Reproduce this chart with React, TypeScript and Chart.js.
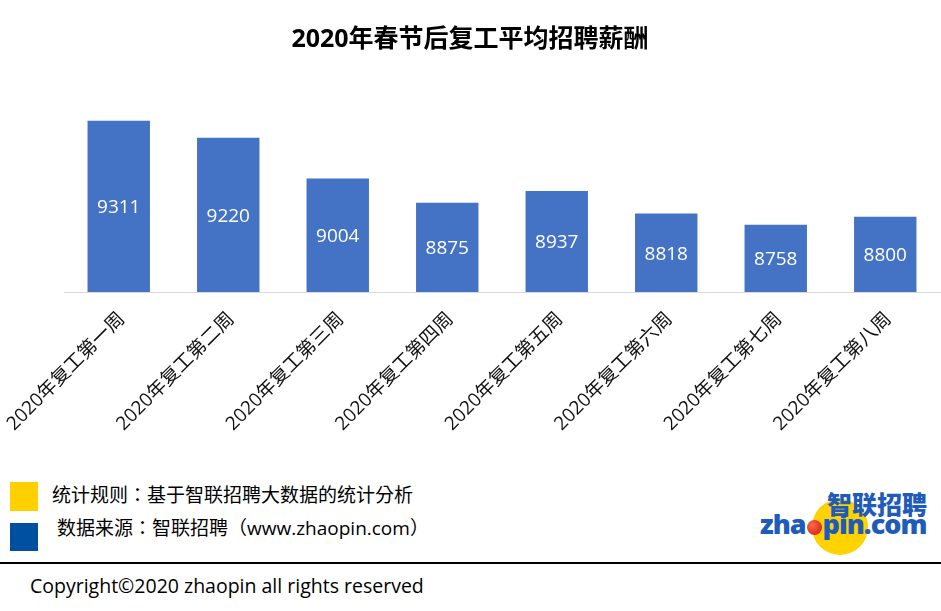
import React, { useEffect, useRef } from "react";
import { Chart, registerables } from "chart.js";

Chart.register(...registerables);

const TITLE = "2020年春节后复工平均招聘薪酬";
const categories = [
  "2020年复工第一周",
  "2020年复工第二周",
  "2020年复工第三周",
  "2020年复工第四周",
  "2020年复工第五周",
  "2020年复工第六周",
  "2020年复工第七周",
  "2020年复工第八周",
];
const salaries = [9311, 9220, 9004, 8875, 8937, 8818, 8758, 8800];
const yMin = 8400;
const yMax = 9400;

const FONT = "'Open Sans', 'Noto Sans CJK SC', sans-serif";
const FONT_TC = "'Open Sans', 'Noto Sans CJK TC', sans-serif";

const barLabelPlugin = {
  id: "barLabels",
  afterDraw(chart: any) {
    const ctx = chart.ctx;
    const meta = chart.getDatasetMeta(0);
    const data = chart.data.datasets[0].data;
    const yScale = chart.scales.y;
    const basePx = yScale.getPixelForValue(yMin);
    ctx.save();
    ctx.fillStyle = "#ffffff";
    ctx.font = "19px 'Open Sans', sans-serif";
    ctx.textAlign = "center";
    ctx.textBaseline = "middle";
    meta.data.forEach((el: any, i: number) => {
      const topPx = yScale.getPixelForValue(data[i]);
      const cy = (topPx + basePx) / 2 + 1.5;
      ctx.fillText(String(data[i]), el.x, cy);
    });
    ctx.restore();
  },
};

function ChartCanvas() {
  const ref = useRef<HTMLCanvasElement | null>(null);
  useEffect(() => {
    if (!ref.current) return;
    const chart = new Chart(ref.current, {
      type: "bar",
      data: {
        labels: categories,
        datasets: [
          {
            data: salaries,
            backgroundColor: "#4472C4",
            categoryPercentage: 1,
            barPercentage: 0.57,
          },
        ],
      },
      options: {
        animation: false,
        responsive: false,
        maintainAspectRatio: false,
        layout: { padding: { left: 0, right: 1, top: 0, bottom: 0 } },
        plugins: {
          legend: { display: false },
          tooltip: { enabled: false },
          title: {
            display: true,
            text: TITLE,
            color: "#000000",
            font: { family: FONT, size: 25, weight: "bold" },
            padding: { top: 25, bottom: 49 },
          },
        },
        scales: {
          y: {
            display: true,
            min: yMin,
            max: yMax,
            grid: { display: false },
            border: { display: false },
            ticks: { display: false },
            afterFit: (s: any) => {
              s.width = 64;
              s.paddingTop = 0;
              s.paddingBottom = 0;
            },
          },
          x: {
            grid: { display: false },
            border: { display: true, color: "#d9d9d9", width: 1 },
            ticks: {
              color: "#111111",
              font: { family: FONT, size: 19 },
              minRotation: 45,
              maxRotation: 45,
              padding: 8,
              labelOffset: 3,
              autoSkip: false,
            },
            afterFit: (s: any) => {
              s.height = 168;
              s.paddingLeft = 0;
              s.paddingRight = 0;
            },
          },
        },
      },
      plugins: [barLabelPlugin],
    } as any);
    return () => chart.destroy();
  }, []);
  return <canvas ref={ref} width={941} height={460} style={{ display: "block" }} />;
}

export default function App() {
  return (
    <div
      style={{
        position: "absolute",
        left: 0,
        top: 0,
        width: 941,
        height: 611,
        background: "#ffffff",
        overflow: "hidden",
        fontFamily: FONT,
      }}
    >
      <div style={{ position: "absolute", left: 0, top: 0 }}>
        <ChartCanvas />
      </div>
      <div style={{ position: "absolute", left: 10, top: 482, width: 28, height: 29, background: "#FFD000" }} />
      <div style={{ position: "absolute", left: 10, top: 523, width: 28, height: 28, background: "#0050A2" }} />
      <div style={{ position: "absolute", left: 52, top: 482, fontSize: 19, lineHeight: "26px", color: "#000", fontFamily: FONT_TC, whiteSpace: "nowrap" }}>
        统计规则：基于智联招聘大数据的统计分析
      </div>
      <div style={{ position: "absolute", left: 57, top: 515, fontSize: 19, lineHeight: "26px", color: "#000", fontFamily: FONT_TC, whiteSpace: "nowrap" }}>
        数据来源：智联招聘（www.zhaopin.com）
      </div>
      {/* logo */}
      <div style={{ position: "absolute", left: 812, top: 499, width: 56, height: 56, borderRadius: "50%", background: "#FFD200" }} />
      <div
        style={{
          position: "absolute",
          left: 827,
          top: 488,
          fontSize: 25,
          fontWeight: 900,
          lineHeight: "30px",
          color: "#1F5BB8",
          fontFamily: "'Noto Sans CJK SC', sans-serif",
          letterSpacing: 0,
          whiteSpace: "nowrap",
        }}
      >
        智联招聘
      </div>
      <div
        style={{
          position: "absolute",
          left: 760,
          top: 508,
          fontSize: 27,
          fontWeight: 800,
          lineHeight: "32px",
          color: "#1F5BB8",
          fontFamily: "'Open Sans', Arial, sans-serif",
          letterSpacing: -1,
          whiteSpace: "nowrap",
        }}
      >
        zha
        <span
          style={{
            display: "inline-block",
            width: 15,
            height: 15,
            borderRadius: "50%",
            background: "radial-gradient(circle at 35% 35%, #ff6a4a, #c8140a)",
            margin: "0 1px",
            verticalAlign: "-1px",
          }}
        />
        pin.com
      </div>
      <div style={{ position: "absolute", left: 0, top: 562, width: 941, height: 2, background: "#000" }} />
      <div style={{ position: "absolute", left: 30, top: 573, fontSize: 19.5, lineHeight: "26px", color: "#000", whiteSpace: "nowrap" }}>
        Copyright©2020 zhaopin all rights reserved
      </div>
    </div>
  );
}
